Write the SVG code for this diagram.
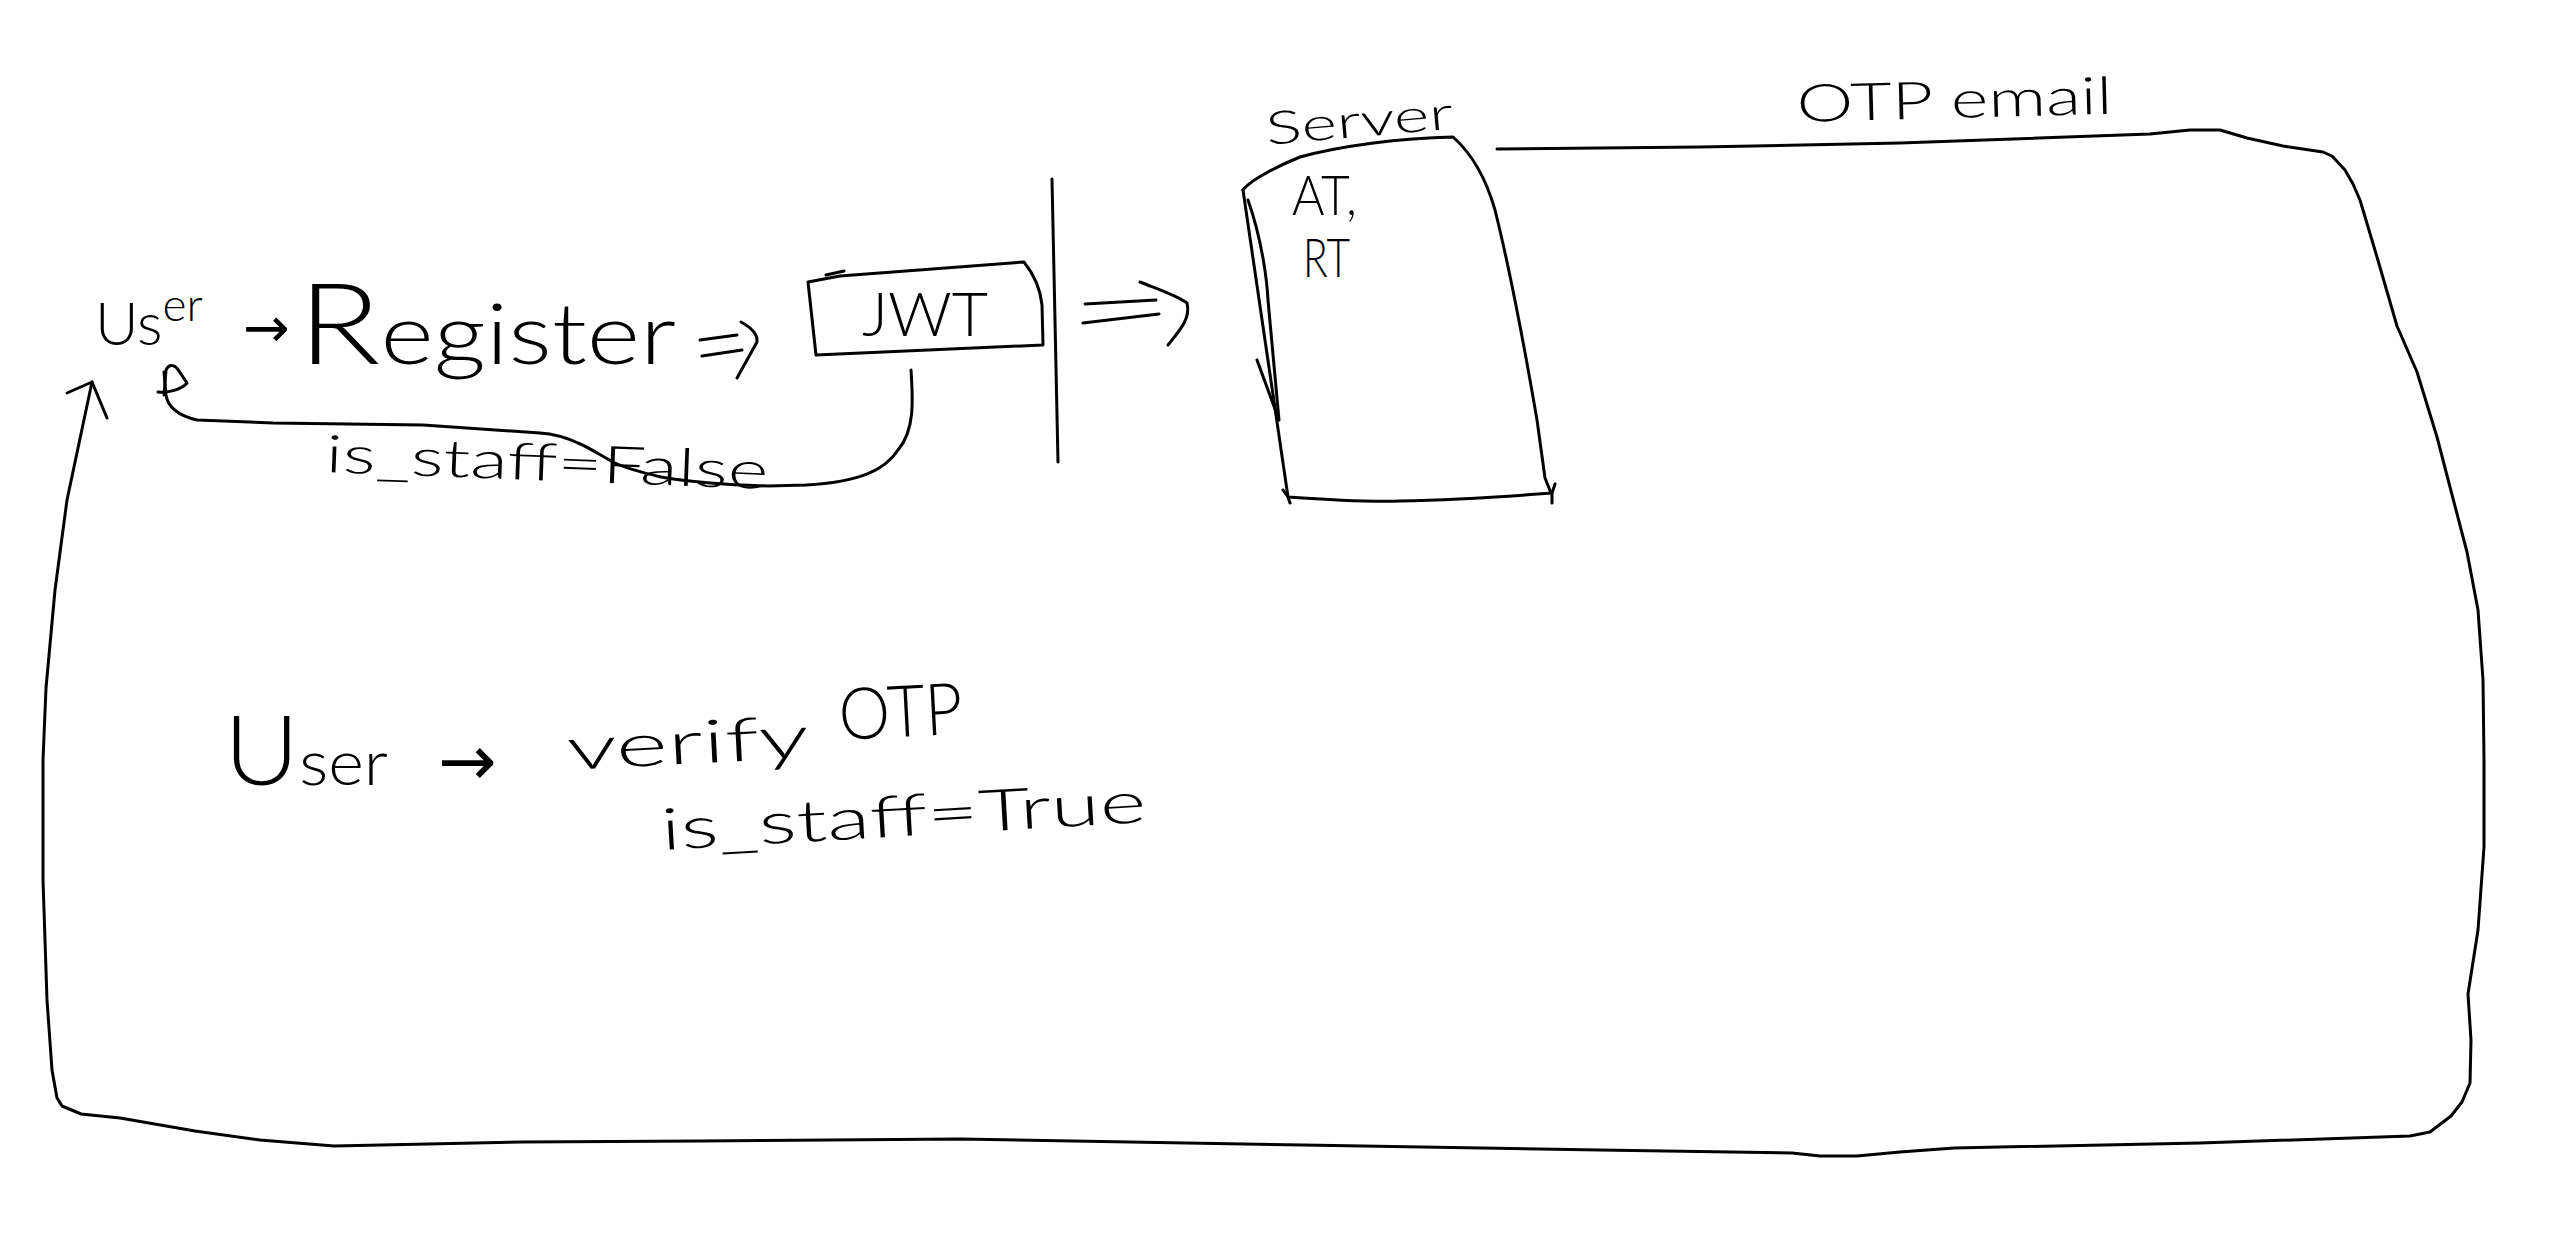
<svg xmlns="http://www.w3.org/2000/svg" width="2554" height="1234" viewBox="0 0 2554 1234">
<style>
.t{font-family:Lato,"Open Sans","DejaVu Sans",sans-serif;font-weight:300;fill:#000}
.a{font-family:"DejaVu Sans",sans-serif;font-weight:normal;fill:#000}
.ln{fill:none;stroke:#000;stroke-width:3;stroke-linecap:round;stroke-linejoin:round}
</style>
<rect width="2554" height="1234" fill="#fff"/>
<g id="user-top">
<text class="t" x="95" y="345" font-size="60">Us<tspan font-size="46" dy="-24">er</tspan></text>
</g>
<g id="register">
<text class="a" x="243" y="347" font-size="56">→</text>
<text class="t" x="298" y="364" font-size="84" textLength="378" lengthAdjust="spacingAndGlyphs"><tspan font-size="112">R</tspan>egister</text>
</g>
<g id="jwt">
<path class="ln" d="M1024,262 L840,276 L808,282 L816,355 L1043,345 L1042,305 C1040,285 1032,272 1024,262 Z"/>
<path class="ln" d="M826,275 L844,271"/>
<text class="t" x="862" y="336" font-size="62" textLength="126" lengthAdjust="spacingAndGlyphs">JWT</text>
</g>
<g id="divider">
<path class="ln" d="M1052,179 L1058,462"/>
</g>
<g id="server">
<path class="ln" d="M1243,190 C1250,180 1280,165 1300,157 C1340,146 1400,138 1453,137 C1470,152 1485,175 1495,210 C1510,270 1525,350 1537,420 L1545,478 L1551,493"/>
<path class="ln" d="M1243,190 L1288,497 L1290,503"/>
<path class="ln" d="M1283,490 L1288,497 C1330,500 1370,502 1400,501 C1450,500 1500,497 1552,493 L1555,484 M1552,493 L1552,503"/>
<path class="ln" d="M1248,200 C1262,240 1267,280 1268,300 L1279,420 M1257,360 L1279,420"/>
<text class="t" x="1267" y="145" font-size="46" textLength="188" lengthAdjust="spacingAndGlyphs" transform="rotate(-5 1267 145)">Server</text>
<text class="t" x="1292" y="215" font-size="56" textLength="65" lengthAdjust="spacingAndGlyphs">AT,</text>
<text class="t" x="1303" y="277" font-size="54" textLength="47" lengthAdjust="spacingAndGlyphs">RT</text>
</g>
<g id="verify">
<text class="t" x="224" y="785" font-size="64" textLength="164" lengthAdjust="spacingAndGlyphs"><tspan font-size="97">U</tspan>ser</text>
<text class="a" x="438" y="785" font-size="70">→</text>
<text class="t" x="568" y="770" font-size="60" textLength="242" lengthAdjust="spacingAndGlyphs" transform="rotate(-3 568 770)">verify</text>
<text class="t" x="840" y="740" font-size="72" textLength="124" lengthAdjust="spacingAndGlyphs" transform="rotate(-3 840 740)">OTP</text>
<text class="t" x="662" y="850" font-size="58" textLength="486" lengthAdjust="spacingAndGlyphs" transform="rotate(-3.3 662 850)">is_staff=True</text>
</g>
<g id="connectors">
<path class="ln" d="M700,340 L737,335 M702,356 L742,350 M741,322 C752,328 758,334 757,342 L737,378"/>
<path class="ln" d="M1085,304 L1156,300 M1083,323 L1159,314 M1140,282 C1160,290 1178,296 1187,303 C1191,318 1180,330 1168,345"/>
<path class="ln" d="M911,370 C913,400 915,430 898,450 C885,470 860,482 806,485 L768,486 C730,485 690,482 661,477 C640,472 625,468 615,463 C600,455 590,448 578,443 C565,437 555,434 540,433 L423,425 L273,423 L197,420 C180,416 168,408 166,395 L164,372"/>
<path class="ln" d="M164,395 L166,370 C170,362 176,366 179,371 L187,383 C182,389 170,393 158,392"/>
<text class="t" x="325" y="472" font-size="52" textLength="443" lengthAdjust="spacingAndGlyphs" transform="rotate(2.2 325 472)">is_staff=False</text>
<path class="ln" d="M1497,149 L1700,147 L1900,143 L2150,134 L2190,130 L2220,130 L2247,138 L2283,146 L2323,152 L2332,156 L2345,170 L2353,184 L2360,200 L2377,257 L2397,326 L2417,372 L2437,437 L2450,487 L2467,552 L2478,610 L2483,680 L2484,760 L2484,847 L2478,930 L2468,994 L2471,1040 L2470,1083 L2462,1102 L2451,1116 L2430,1132 L2410,1136 L2200,1143 L1954,1148 L1900,1152 L1857,1156 L1820,1156 L1792,1153 L1600,1150 L1303,1145 L961,1139 L700,1141 L521,1142 L334,1146 L260,1140 L195,1131 L120,1118 L81,1114 L62,1106 L57,1098 L52,1070 L47,1000 L43,880 L43,760 L46,688 L55,590 L67,500 L92,382"/>
<path class="ln" d="M67,393 L92,382 L107,418"/>
<text class="t" x="1797" y="122" font-size="52" textLength="316" lengthAdjust="spacingAndGlyphs" transform="rotate(-1.5 1797 122)">OTP email</text>
</g>
</svg>
